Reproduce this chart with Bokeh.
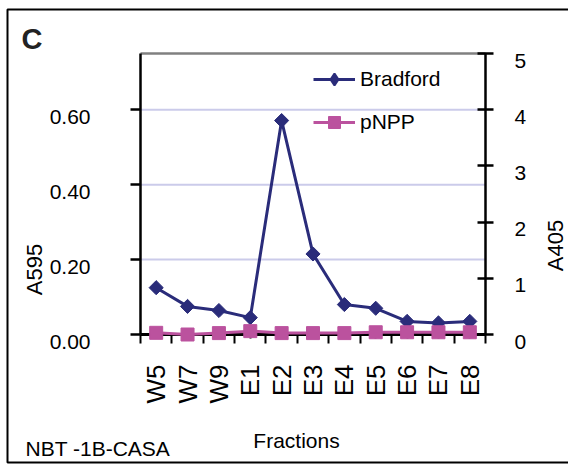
import numpy as np
from bokeh.plotting import figure
from bokeh.models import (Range1d, LinearAxis, FixedTicker, Legend, LegendItem, Label,
                          ColumnDataSource)
from bokeh.core.properties import value
from bokeh.embed import file_html
from bokeh.resources import INLINE

# ---- data ----
categories = ["W5", "W7", "W9", "E1", "E2", "E3", "E4", "E5", "E6", "E7", "E8"]
bradford = [0.125, 0.075, 0.064, 0.045, 0.571, 0.215, 0.080, 0.070, 0.035, 0.031, 0.035]
pnpp = [0.03, 0.0, 0.025, 0.06, 0.025, 0.025, 0.025, 0.04, 0.04, 0.04, 0.04]
left_ticks = [0.0, 0.2, 0.4, 0.6]
left_tick_labels = ["0.00", "0.20", "0.40", "0.60"]
right_ticks = [0, 1, 2, 3, 4, 5]
right_tick_labels = ["0", "1", "2", "3", "4", "5"]
left_max = 0.75
right_max = 5

# ---- style / layout ----
NAVY = "#2a2c7a"
PINK = "#bb529e"
GRID = "#cbcbea"
FONT = "Liberation Sans"
W, H = 568, 466
CH_L, CH_T, CH_R, CH_B = 140, 53, 485, 334   # chart area, canvas px
BOX_L, BOX_T, BOX_B = 7, 9, 462               # outer box, canvas px (right side off-picture)

n = len(categories)
px_x = (CH_R - CH_L) / n
px_l = (CH_B - CH_T) / left_max
px_r = (CH_B - CH_T) / right_max
x_range = Range1d(-CH_L / px_x, n + (W - CH_R) / px_x)
y_range = Range1d(-(H - CH_B) / px_l, left_max + CH_T / px_l)
yr_right = Range1d(-(H - CH_B) / px_r, right_max + CH_T / px_r)


def px2x(px):
    return (px - CH_L) / px_x


def px2y(py):
    return (CH_B - py) / px_l


x = np.arange(n) + 0.5
src = ColumnDataSource(dict(x=x, cat=categories, bradford=bradford, pnpp=pnpp))

p = figure(width=W, height=H, output_backend="svg", toolbar_location=None,
           x_range=x_range, y_range=y_range,
           min_border_left=0, min_border_right=0, min_border_top=0, min_border_bottom=0)
p.extra_y_ranges = {"right": yr_right}
p.background_fill_color = "white"
p.border_fill_color = "white"
p.outline_line_color = None
p.xgrid.visible = False
p.ygrid.visible = False

# outer box
p.line(x=[px2x(W + 20), px2x(BOX_L), px2x(BOX_L), px2x(W + 20)],
       y=[px2y(BOX_T), px2y(BOX_T), px2y(BOX_B), px2y(BOX_B)],
       line_color="black", line_width=2)

# grid lines and top edge of the chart area
grid_vals = [t for t in left_ticks if t > 0]
p.segment(x0=[0] * len(grid_vals), x1=[n] * len(grid_vals), y0=grid_vals, y1=grid_vals,
          line_color=GRID, line_width=2)
p.segment(x0=[0], x1=[n], y0=[left_max], y1=[left_max], line_color="#808080", line_width=2.5)

# x axis
xa = p.xaxis[0]
xa.fixed_location = 0
xa.bounds = (0, n)
xa.ticker = FixedTicker(ticks=list(x), minor_ticks=list(range(0, n + 1)))
xa.major_label_overrides = {float(xi): c for xi, c in zip(x, categories)}
xa.axis_line_width = 3
xa.axis_line_color = "black"
xa.major_tick_out = 4
xa.major_tick_in = 0
xa.major_tick_line_width = 2
xa.minor_tick_out = 9
xa.minor_tick_in = 0
xa.minor_tick_line_width = 2
xa.major_label_orientation = np.pi / 2
xa.major_label_standoff = 21
xa.major_label_text_font = FONT
xa.major_label_text_font_size = "26px"
xa.major_label_text_color = "black"

# left axis (tick labels drawn below as text, sitting slightly under their ticks)
ya = p.yaxis[0]
ya.fixed_location = 0
ya.bounds = (0, left_max)
ya.ticker = FixedTicker(ticks=left_ticks)
ya.major_label_overrides = {t: "" for t in left_ticks}
ya.axis_line_width = 2.5
ya.axis_line_color = "black"
ya.major_tick_out = 10
ya.major_tick_in = 0
ya.major_tick_line_width = 2.5
ya.minor_tick_line_color = None

# right axis
ra = LinearAxis(y_range_name="right", ticker=FixedTicker(ticks=right_ticks))
ra.fixed_location = n
ra.bounds = (0, right_max)
ra.major_label_overrides = {t: "" for t in right_ticks}
ra.axis_line_width = 2.5
ra.axis_line_color = "black"
ra.major_tick_out = 8
ra.major_tick_in = 8
ra.major_tick_line_width = 2.5
ra.minor_tick_line_color = None
p.add_layout(ra, "right")

# tick labels
p.text(x=[0] * len(left_ticks), y=left_ticks, text=left_tick_labels,
       x_offset=-50, y_offset=7, text_align="right", text_baseline="middle",
       text_font=value(FONT), text_font_size="21px", text_color="black")
p.text(x=[n] * len(right_ticks), y=right_ticks, text=right_tick_labels,
       y_range_name="right", x_offset=29, y_offset=7, text_align="left",
       text_baseline="middle", text_font=value(FONT), text_font_size="21px",
       text_color="black")

# series
bl = p.line("x", "bradford", source=src, line_color=NAVY, line_width=3)
bs = p.scatter("x", "bradford", source=src, marker="square", angle=np.pi / 4, size=10,
               fill_color=NAVY, line_color=NAVY)
pl = p.line("x", "pnpp", source=src, y_range_name="right", line_color=PINK, line_width=3,
            level="annotation")
ps = p.scatter("x", "pnpp", source=src, y_range_name="right", marker="square", size=13,
               fill_color=PINK, line_color=PINK, level="annotation")
# legend-only diamond key for the Bradford entry (a single undrawn NaN point)
bkey = p.scatter(x=[np.nan], y=[np.nan], marker="diamond", fill_color=NAVY,
                 line_color=NAVY, line_width=2)

legend = Legend(items=[LegendItem(label="Bradford", renderers=[bl, bkey]),
                       LegendItem(label="pNPP", renderers=[pl, ps])],
                location=(313, H - 137), border_line_color=None, background_fill_alpha=0,
                padding=0, margin=0, glyph_width=42, glyph_height=30, label_height=20,
                spacing=13, label_standoff=5, label_text_font=FONT,
                label_text_font_size="21px", label_text_color="black")
p.add_layout(legend)

# texts
p.add_layout(Label(x=21, y=38, x_units="canvas", y_units="canvas", text="C",
                   text_font=FONT, text_font_style="bold", text_font_size="29px",
                   text_baseline="alphabetic", text_color="#222222"))
p.add_layout(Label(x=25, y=448, x_units="canvas", y_units="canvas", text="NBT -1B-CASA",
                   text_font=FONT, text_font_size="21px", text_baseline="alphabetic",
                   text_color="black"))
p.add_layout(Label(x=296, y=440, x_units="canvas", y_units="canvas", text="Fractions",
                   text_font=FONT, text_font_size="21px", text_align="center",
                   text_baseline="alphabetic", text_color="black"))
p.add_layout(Label(x=34, y=269, x_units="canvas", y_units="canvas", text="A595",
                   angle=np.pi / 2, text_font=FONT, text_font_size="22px",
                   text_align="center", text_baseline="middle", text_color="black"))
p.add_layout(Label(x=555, y=245, x_units="canvas", y_units="canvas", text="A405",
                   angle=np.pi / 2, text_font=FONT, text_font_size="22px",
                   text_align="center", text_baseline="middle", text_color="black"))

open("out.html", "w").write(file_html(p, INLINE))
